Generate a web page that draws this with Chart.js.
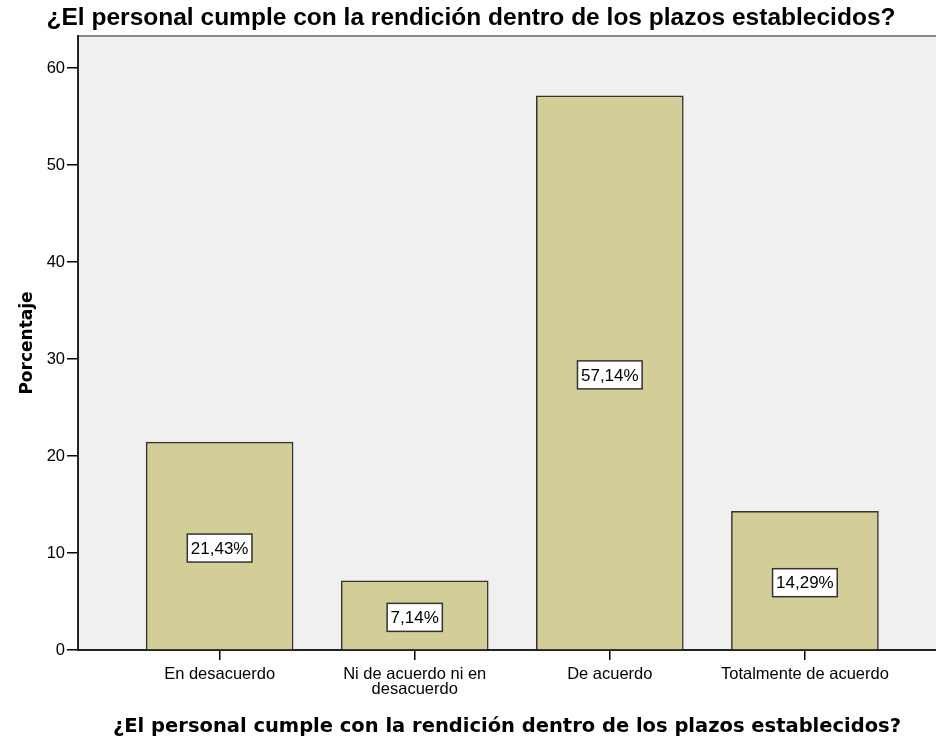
<!DOCTYPE html>
<html>
<head>
<meta charset="utf-8">
<script src="https://cdn.jsdelivr.net/npm/chart.js@4.4.0/dist/chart.umd.min.js"></script>
<style>
  html, body { margin: 0; padding: 0; background: #fff; }
  #wrap { width: 936px; height: 737px; position: relative; }
</style>
</head>
<body>
<div id="wrap"><canvas id="chart"></canvas></div>
<script>
'use strict';

const chartTitle = '¿El personal cumple con la rendición dentro de los plazos establecidos?';
const categories = ['En desacuerdo', ['Ni de acuerdo ni en', 'desacuerdo'], 'De acuerdo', 'Totalmente de acuerdo'];
const percentages = [21.43, 7.14, 57.14, 14.29];
const percentLabels = ['21,43%', '7,14%', '57,14%', '14,29%'];
const yTicks = [0, 10, 20, 30, 40, 50, 60];

const barPoints = [];
for (let i = 0; i < percentages.length; i++) {
  barPoints.push({ x: i + 1, y: percentages[i] });
}

// plot background + top title
const backdrop = {
  id: 'backdrop',
  beforeDraw(chart) {
    const ctx = chart.ctx;
    const a = chart.chartArea;
    ctx.save();
    ctx.fillStyle = '#f0f0f0';
    ctx.fillRect(a.left, a.top, a.right - a.left, a.bottom - a.top);
    ctx.strokeStyle = '#8a8a8a';
    ctx.lineWidth = 2;
    ctx.beginPath();
    ctx.moveTo(a.left, a.top);
    ctx.lineTo(a.right, a.top);
    ctx.stroke();

    // title is slightly wider than Liberation Sans, stretch it a little
    ctx.fillStyle = '#000';
    ctx.font = 'bold 24px "Liberation Sans", Arial, sans-serif';
    ctx.textAlign = 'center';
    ctx.textBaseline = 'middle';
    const tw = ctx.measureText(chartTitle).width;
    ctx.translate(471, 18);
    ctx.scale(849 / tw, 1);
    ctx.fillText(chartTitle, 0, 0);
    ctx.restore();
  }
};

// boxed value labels in the middle of each bar
const boxLabels = {
  id: 'boxLabels',
  afterDatasetsDraw(chart) {
    const ctx = chart.ctx;
    const yScale = chart.scales.y;
    const bars = chart.getDatasetMeta(0).data;
    ctx.save();
    ctx.font = '17px "Liberation Sans", Arial, sans-serif';
    ctx.textAlign = 'center';
    ctx.textBaseline = 'middle';
    bars.forEach(function (bar, i) {
      const cy = yScale.getPixelForValue(percentages[i] / 2) + 2;
      const w = ctx.measureText(percentLabels[i]).width + 7;
      const h = 28;
      ctx.fillStyle = '#fff';
      ctx.fillRect(bar.x - w / 2, cy - h / 2, w, h);
      ctx.strokeStyle = '#333';
      ctx.lineWidth = 1.5;
      ctx.strokeRect(bar.x - w / 2, cy - h / 2, w, h);
      ctx.fillStyle = '#000';
      ctx.fillText(percentLabels[i], bar.x, cy + 1);
    });
    ctx.restore();
  }
};

const data = {
  datasets: [
    {
      label: 'Porcentaje',
      data: barPoints,
      backgroundColor: '#d3ce97',
      borderColor: '#333',
      borderWidth: 1.5,
      barThickness: 147
    }
  ]
};

const config = {
  type: 'bar',
  data: data,
  plugins: [backdrop, boxLabels],
  options: {
    responsive: false,
    animation: false,
    layout: { padding: { top: 36, right: 0, left: 0, bottom: 0 } },
    plugins: {
      legend: { display: false },
      tooltip: { enabled: false },
      title: { display: false }
    },
    scales: {
      x: {
        type: 'linear',
        min: 0.274,
        max: 4.672,
        offset: false,
        afterBuildTicks(scale) {
          scale.ticks = categories.map(function (c, i) { return { value: i + 1 }; });
        },
        afterFit(scale) { scale.height = 87; },
        ticks: {
          autoSkip: false,
          maxRotation: 0,
          padding: 7,
          color: '#000',
          font: { family: '"Liberation Sans", Arial, sans-serif', size: 16.5, lineHeight: 0.92 },
          callback: function (value) { return categories[value - 1]; }
        },
        grid: { offset: false, drawOnChartArea: false, drawTicks: true, tickLength: 10, color: '#000', lineWidth: 1.5 },
        border: { display: true, color: '#222', width: 2 },
        title: {
          display: true,
          text: chartTitle,
          color: '#000',
          font: { family: '"DejaVu Sans", sans-serif', size: 19.5, weight: 'bold' },
          padding: { top: 0, bottom: -2 }
        }
      },
      y: {
        min: 0,
        max: 63.3,
        afterBuildTicks(scale) {
          scale.ticks = yTicks.map(function (v) { return { value: v }; });
        },
        afterFit(scale) { scale.width = 78; },
        ticks: {
          padding: 2,
          color: '#000',
          font: { family: '"Liberation Sans", Arial, sans-serif', size: 16.5 }
        },
        grid: { drawOnChartArea: false, drawTicks: true, tickLength: 11, color: '#000', lineWidth: 1.5 },
        border: { display: true, color: '#222', width: 2 },
        title: {
          display: true,
          text: 'Porcentaje',
          color: '#000',
          font: { family: '"DejaVu Sans", sans-serif', size: 17, weight: 'bold' },
          padding: { top: 17, bottom: 0 }
        }
      }
    }
  }
};

const canvasElem = document.getElementById('chart');
canvasElem.width = 936;
canvasElem.height = 737;
const myChart = new Chart(canvasElem, config);
</script>
</body>
</html>
